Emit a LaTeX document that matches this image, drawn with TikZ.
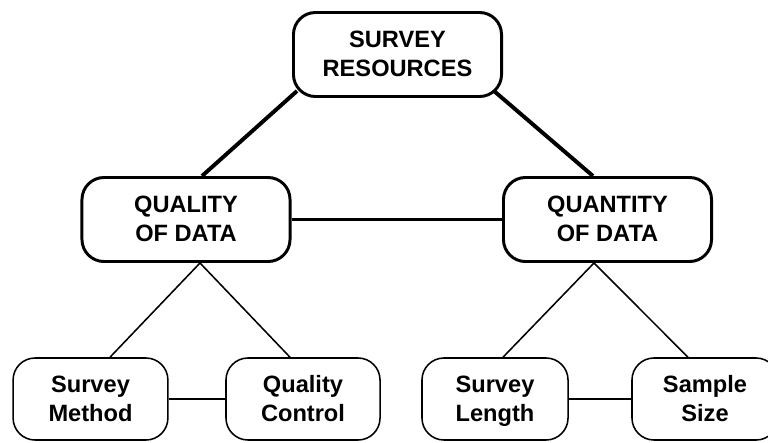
\documentclass[tikz,border=0pt]{standalone}
\usepackage{fontspec}
\setmainfont{Liberation Sans}
\usetikzlibrary{calc}
\begin{document}
\begin{tikzpicture}[x=0.025cm, y=-0.025cm,
  every node/.style={align=center, text depth=0.03cm,
    font=\bfseries\fontsize{16.8}{20.6}\selectfont},
  bigbox/.style={draw, line width=2.1pt, rounded corners=0.55cm, fill=white,
    minimum width=5.2cm, minimum height=2.1cm, inner sep=0pt},
  smallbox/.style={draw, line width=1.1pt, rounded corners=0.55cm, fill=white,
    minimum height=2.05cm, inner sep=0pt}]
  \useasboundingbox (0,0) rectangle (768,442);
  \clip (0,0) rectangle (768,442);
  \node [bigbox] (res) at (397.5,54.5) {SURVEY\\RESOURCES};
  \node [bigbox] (qual) at (186,219.5) {QUALITY\\OF DATA};
  \node [bigbox] (quan) at (607.5,219.5) {QUANTITY\\OF DATA};
  \node [smallbox, minimum width=3.87cm] (meth) at (90.5,399) {Survey\\Method};
  \node [smallbox, minimum width=3.85cm] (ctrl) at (303,399) {Quality\\Control};
  \node [smallbox, minimum width=3.65cm] (len) at (495,399) {Survey\\Length};
  \node [smallbox, minimum width=3.65cm] (size) at (705,399) {Sample\\Size};
  \draw [line width=2.8pt] ($(res.south west)+(5,-7)$) -- ($(qual.north)+(16,0)$);
  \draw [line width=2.8pt] ($(res.south east)+(-9,-7)$) -- ($(quan.north)+(-14.5,0)$);
  \draw [line width=1.8pt] (qual.east) -- (quan.west);
  \draw [line width=1.1pt] ($(qual.south)+(14,0)$) -- ($(meth.north)+(19.5,0)$);
  \draw [line width=1.1pt] ($(qual.south)+(14,0)$) -- ($(ctrl.north)+(-13,0)$);
  \draw [line width=1.1pt] ($(quan.south)+(-13.5,0)$) -- ($(len.north)+(8,0)$);
  \draw [line width=1.1pt] ($(quan.south)+(-13.5,0)$) -- ($(size.north)+(-17,0)$);
  \draw [line width=1.1pt] (meth.east) -- (ctrl.west);
  \draw [line width=1.1pt] (len.east) -- (size.west);
\end{tikzpicture}
\end{document}
